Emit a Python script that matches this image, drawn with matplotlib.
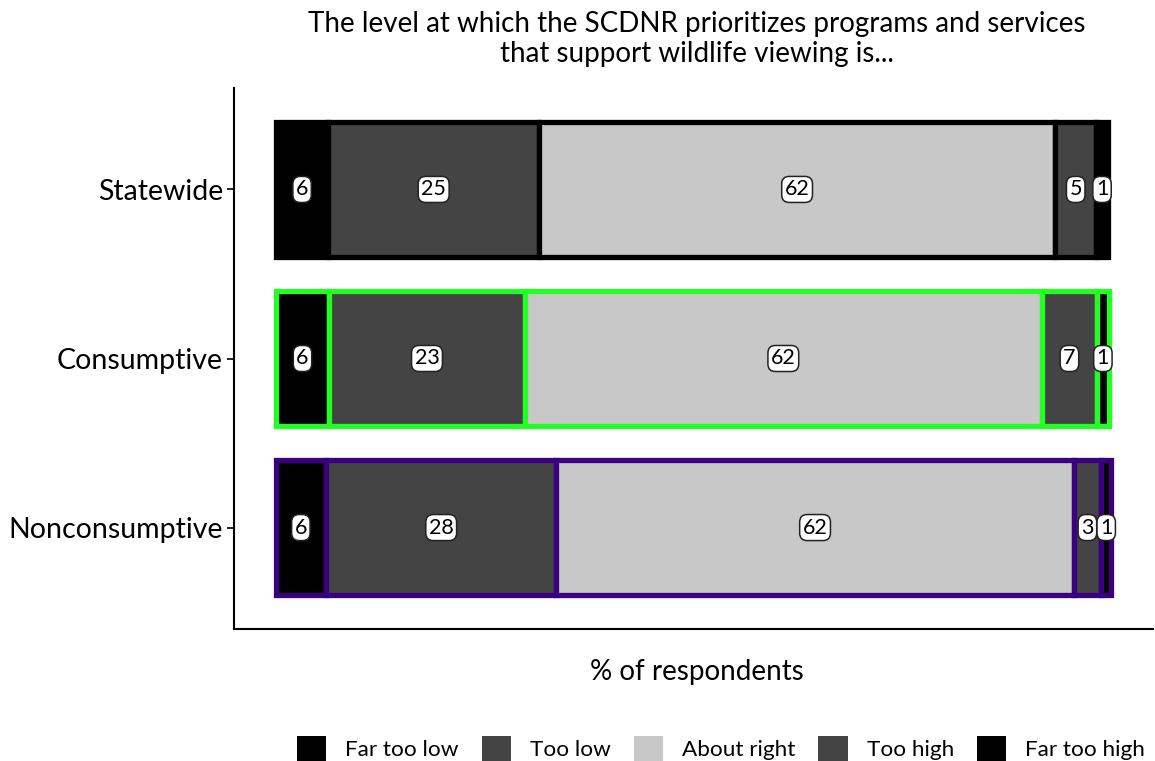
import matplotlib
matplotlib.use('Agg')
import matplotlib.pyplot as plt
from matplotlib.patches import Patch
import numpy as np

plt.rcParams['font.family'] = ['Lato', 'DejaVu Sans']

groups = ['Statewide', 'Consumptive', 'Nonconsumptive']
categories = ['Far too low', 'Too low', 'About right', 'Too high', 'Far too high']
far_too_low = [6.3, 6.4, 6.0]
too_low = [25.2, 23.4, 27.6]
about_right = [61.8, 61.9, 61.9]
too_high = [4.9, 6.6, 3.3]
far_too_high = [1.4, 1.4, 1.2]
title = ('The level at which the SCDNR prioritizes programs and services\n'
         'that support wildlife viewing is...')
xlabel = '% of respondents'

fill_colors = ['#000000', '#444444', '#C8C8C8', '#444444', '#000000']
edge_colors = ['#000000', '#22FF22', '#3A0080']

W, H = 1155, 761
fig = plt.figure(figsize=(W / 100, H / 100), dpi=100)
ax = fig.add_axes([234 / W, 1 - 629 / H, (1153 - 234) / W, (629 - 88) / H])

series = [far_too_low, too_low, about_right, too_high, far_too_high]
ypos = np.arange(len(groups))[::-1]
left = np.zeros(len(groups))
for vals, fc in zip(series, fill_colors):
    vals = np.array(vals, dtype=float)
    ax.barh(ypos, vals, left=left, height=0.8, color=fc,
            edgecolor=edge_colors, linewidth=3.8, zorder=2)
    for y, l, v in zip(ypos, left, vals):
        ax.text(l + v / 2, y, f'{int(round(v))}', ha='center', va='center',
                fontsize=15.5, color='black', zorder=5,
                bbox=dict(boxstyle='round,pad=0.14,rounding_size=0.35',
                          fc='white', ec='#222222', lw=1.1))
    left += vals

ax.set_xlim(-5, 105)
ax.set_ylim(-0.6, 2.6)
ax.set_yticks(ypos)
ax.set_yticklabels(groups, fontsize=20.5, color='black')
ax.set_xticks([])
ax.tick_params(axis='y', length=5, width=1.2, color='black', pad=3)
for s in ['top', 'right']:
    ax.spines[s].set_visible(False)
for s in ['left', 'bottom']:
    ax.spines[s].set_linewidth(1.5)
    ax.spines[s].set_color('black')

fig.text(697 / W, 1 - 39 / H, title, ha='center', va='center', fontsize=20,
         linespacing=1.2)
fig.text(697 / W, 1 - 672 / H, xlabel, ha='center', va='center', fontsize=20)

handles = [Patch(facecolor=c, edgecolor='none') for c in fill_colors]
fig.legend(handles, categories, loc='lower center', ncol=5,
           bbox_to_anchor=(721 / W, -0.013), frameon=False, fontsize=16.2,
           handlelength=1.3, handleheight=1.4, columnspacing=1.02,
           handletextpad=0.85, borderaxespad=0.0)

fig.savefig('out.png', dpi=100)
